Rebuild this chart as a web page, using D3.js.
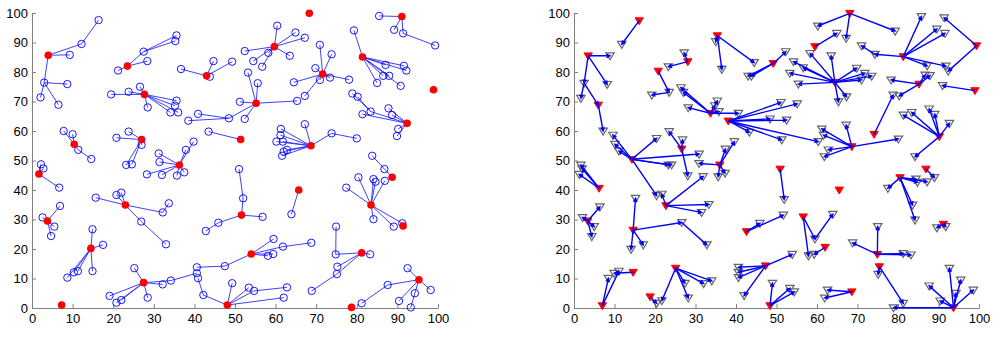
<!DOCTYPE html>
<html>
<head>
<meta charset="utf-8">
<script src="https://cdn.jsdelivr.net/npm/d3@7"></script>
<style>
  body { margin: 0; background: #fff; }
  svg { display: block; }
  .tick text { font-family: Helvetica, Arial, "Liberation Sans", sans-serif; font-size: 13px; fill: #000; }
</style>
</head>
<body>
<svg id="chart" width="1000" height="338"></svg>
<script>
// ticks for both panels
let ticksX = d3.range(0, 101, 10);
let ticksY = d3.range(0, 101, 10);

// left panel: each entry is a center [x, y, children], children are [x, y, children]
let leftTrees = [
  [4.0, 85.7, [[12.2, 89.5, [[16.4, 97.6]]], [9.3, 85.8], [3.0, 76.4, [[8.7, 75.9], [2.1, 71.4], [6.5, 68.9]]]]],
  [23.5, 82.0, [[21.2, 80.5], [28.4, 83.7], [27.5, 86.9, [[35.3, 90.5], [35.6, 92.4]]]]],
  [27.7, 72.4, [[19.5, 72.4], [23.8, 73.3], [26.6, 75.0], [28.5, 68.0], [35.6, 70.3], [35.2, 68.6], [34.1, 66.3], [36.0, 66.3]]],
  [10.4, 55.5, [[7.8, 60.0], [10.0, 58.9], [11.4, 53.6, [[14.6, 50.5]]]]],
  [27.0, 57.1, [[20.8, 57.7], [23.8, 59.8], [27.0, 55.3], [23.2, 48.5], [24.6, 48.7]]],
  [36.3, 48.5, [[31.2, 52.4], [31.4, 49.5], [28.3, 45.3], [32.0, 45.1], [35.7, 44.9], [37.5, 46.0], [37.9, 53.6], [39.8, 56.4]]],
  [68.3, 99.9, []],
  [59.7, 88.6, [[60.4, 95.7], [64.9, 93.4], [67.2, 91.6], [52.4, 87.1], [54.5, 83.7], [58.2, 86.5], [56.7, 81.8], [63.5, 85.5]]],
  [43.0, 78.7, [[36.7, 81.0], [44.7, 83.7], [49.3, 83.5], [43.8, 78.4]]],
  [71.6, 79.3, [[70.9, 89.2], [73.8, 86.0], [69.8, 81.3], [70.9, 77.3], [73.4, 78.1], [78.1, 77.4], [64.5, 76.5], [67.2, 71.9]]],
  [55.2, 69.4, [[53.2, 79.8], [55.6, 76.2], [51.2, 69.9], [52.4, 64.1], [65.3, 70.2], [48.5, 64.3, [[40.9, 65.8], [38.5, 63.5]]]]],
  [51.4, 57.1, [[43.5, 59.8]]],
  [68.7, 55.0, [[67.2, 62.3], [73.8, 59.2, [[80.0, 57.5]]], [61.3, 60.7], [61.2, 58.6], [60.2, 56.4], [61.8, 56.4], [62.8, 53.6], [62.0, 53.0], [61.6, 51.6]]],
  [91.1, 98.8, [[85.5, 99.0], [89.2, 94.3], [91.4, 93.1, [[99.3, 89.0]]]]],
  [81.4, 85.1, [[79.3, 94.1], [87.1, 82.4], [91.6, 82.1], [92.2, 80.5], [86.5, 78.7], [88.0, 78.7], [85.0, 76.3], [90.8, 75.3]]],
  [98.9, 74.0, []],
  [92.4, 62.6, [[83.4, 66.6, [[78.9, 72.7], [80.2, 71.6]]], [81.4, 65.7], [87.8, 67.7], [88.7, 65.4], [90.2, 60.7], [89.9, 58.3]]],
  [88.7, 44.3, [[86.8, 47.1, [[83.8, 51.6]]]]],
  [83.5, 34.9, [[77.4, 40.8], [80.4, 44.3], [84.1, 43.7], [84.6, 42.8], [86.9, 43.1], [84.1, 30.1], [89.1, 27.6], [91.2, 28.7]]],
  [91.4, 27.8, []],
  [81.2, 18.7, [[74.8, 18.2, [[74.9, 27.6]]], [83.3, 18.2], [75.2, 14.0], [75.1, 11.5, [[68.9, 5.8]]]]],
  [95.3, 9.6, [[92.5, 13.5], [98.2, 6.1], [94.3, 5.0, [[93.3, 0.2]]], [90.4, 2.4], [87.6, 7.8, [[81.2, 1.6]]]]],
  [78.7, 0.2, []],
  [65.7, 40.0, [[63.9, 31.8]]],
  [51.6, 31.5, [[52.0, 37.2, [[51.0, 47.1]]], [56.8, 30.9], [45.9, 28.9, [[42.8, 26.1]]]]],
  [54.0, 18.3, [[59.5, 23.4], [61.8, 20.8, [[68.8, 22.1]]], [58.1, 17.7], [59.4, 18.3], [47.5, 14.2, [[40.6, 13.8]]]]],
  [48.1, 1.0, [[49.3, 8.4], [53.4, 6.9], [54.7, 5.8, [[62.8, 7.0]]], [62.0, 3.5], [42.2, 4.4, [[40.9, 10.1]]]]],
  [1.7, 45.4, [[2.2, 48.7], [2.8, 47.3], [6.7, 40.8]]],
  [3.8, 29.5, [[2.6, 30.7], [6.9, 34.6], [5.5, 27.6], [4.7, 24.4]]],
  [14.5, 20.2, [[14.9, 26.7], [17.5, 21.4], [14.9, 12.5], [11.3, 12.5], [10.3, 12.1], [8.7, 10.3]]],
  [23.0, 34.9, [[15.7, 37.4], [20.8, 38.3], [22.0, 39.1], [32.2, 32.4, [[33.7, 35.5]]], [26.9, 29.3, [[33.0, 21.6]]]]],
  [7.3, 1.0, []],
  [27.5, 8.6, [[25.2, 13.5], [28.5, 3.5], [19.1, 4.1], [20.8, 1.8], [22.0, 2.7], [32.2, 8.0], [34.2, 9.3, [[40.6, 11.8]]]]]
];

// right panel: red markers and arrows [fromX, fromY, toX, toY]
let rightRed = [
  [16.1, 97.4], [3.5, 85.5], [6.0, 68.8], [20.8, 80.3], [28.1, 83.5], [33.7, 66.0], [38.1, 63.4],
  [14.3, 50.4], [26.6, 53.9], [6.2, 40.6], [3.4, 29.5], [22.7, 34.7], [14.6, 26.4], [14.6, 12.1],
  [7.0, 0.8], [18.8, 3.8], [25.1, 13.5], [36.0, 48.5], [50.9, 47.1], [65.5, 40.0], [42.6, 25.9],
  [56.6, 30.9], [62.0, 20.6], [47.3, 14.3], [48.4, 0.8], [68.6, 5.5], [35.4, 92.3], [49.2, 82.9],
  [59.5, 88.6], [68.1, 99.9], [64.4, 76.5], [68.6, 54.7], [81.3, 85.2], [99.4, 88.9], [85.2, 75.9],
  [99.0, 73.7], [90.2, 58.1], [74.1, 58.9], [86.9, 47.1], [80.5, 44.2], [91.2, 28.4], [74.9, 18.2],
  [75.4, 14.0], [93.7, 0.1]
];

let rightArrows = [
  [16.1, 97.4, 11.8, 89.4],
  [3.5, 85.5, 8.9, 85.5], [3.5, 85.5, 2.5, 76.2], [3.5, 85.5, 8.2, 75.8],
  [2.5, 76.2, 1.7, 71.1], [2.5, 76.2, 6.0, 68.8], [6.0, 68.8, 7.2, 60.0],
  [20.8, 80.3, 23.5, 73.1], [23.5, 73.1, 19.2, 72.2],
  [28.1, 83.5, 23.3, 81.8], [28.1, 83.5, 27.2, 86.5],
  [33.7, 66.0, 26.4, 74.7], [33.7, 66.0, 27.0, 73.1], [33.7, 66.0, 28.2, 67.9],
  [33.7, 66.0, 35.4, 70.2], [33.7, 66.0, 34.8, 68.6], [33.7, 66.0, 35.8, 66.6], [33.7, 66.0, 40.6, 66.0],
  [14.3, 50.4, 9.6, 58.6], [14.3, 50.4, 10.1, 55.5], [14.3, 50.4, 11.1, 53.2], [14.3, 50.4, 20.4, 57.5],
  [14.3, 50.4, 30.9, 52.2], [14.3, 50.4, 23.3, 48.5], [14.3, 50.4, 24.1, 48.5], [14.3, 50.4, 20.4, 38.1],
  [26.6, 53.9, 23.5, 59.8], [26.6, 53.9, 26.8, 57.0], [26.6, 53.9, 28.1, 44.8],
  [22.7, 34.7, 21.7, 38.6], [22.7, 34.7, 31.9, 44.6], [22.7, 34.7, 31.5, 32.4], [22.7, 34.7, 33.3, 35.1],
  [6.2, 40.6, 1.7, 48.5], [6.2, 40.6, 2.0, 47.2], [6.2, 40.6, 1.3, 45.3],
  [3.4, 29.5, 2.1, 30.7], [3.4, 29.5, 6.4, 34.3], [3.4, 29.5, 5.0, 27.6], [3.4, 29.5, 4.4, 24.2],
  [14.6, 26.4, 15.2, 37.2], [14.6, 26.4, 14.1, 19.9], [14.6, 26.4, 17.1, 21.4], [14.6, 26.4, 26.6, 29.0],
  [26.6, 29.0, 32.8, 21.4],
  [14.6, 12.1, 9.9, 11.8], [7.0, 0.8, 11.1, 12.5], [7.0, 0.8, 8.5, 10.1],
  [18.8, 3.8, 20.4, 1.6],
  [25.1, 13.5, 21.7, 2.5], [25.1, 13.5, 27.4, 8.4], [25.1, 13.5, 28.2, 3.4], [25.1, 13.5, 32.0, 8.3], [25.1, 13.5, 34.0, 9.2],
  [36.0, 48.5, 39.6, 56.4], [36.0, 48.5, 37.4, 53.9], [36.0, 48.5, 30.9, 49.0], [36.0, 48.5, 35.6, 44.5], [36.0, 48.5, 37.3, 45.7],
  [50.9, 47.1, 51.9, 36.8],
  [42.6, 25.9, 45.9, 28.7], [42.6, 25.9, 51.7, 31.5],
  [56.6, 30.9, 59.5, 23.4], [59.5, 23.4, 63.9, 31.8], [56.6, 30.9, 57.9, 17.7], [62.0, 20.6, 59.3, 18.2],
  [47.3, 14.3, 53.9, 18.2], [47.3, 14.3, 40.6, 13.8], [47.3, 14.3, 40.6, 12.1], [47.3, 14.3, 40.6, 10.3], [47.3, 14.3, 42.0, 4.2],
  [48.4, 0.8, 49.0, 8.4], [48.4, 0.8, 53.3, 6.7], [48.4, 0.8, 54.4, 5.5],
  [68.6, 5.5, 62.6, 6.1], [68.6, 5.5, 61.9, 3.4],
  [35.4, 92.3, 36.5, 80.9], [35.4, 92.3, 44.5, 83.2], [35.4, 92.3, 35.0, 90.3],
  [49.2, 82.9, 52.3, 86.9], [49.2, 82.9, 43.0, 78.6], [49.2, 82.9, 43.8, 78.6],
  [59.5, 88.6, 64.9, 93.1],
  [68.1, 99.9, 60.2, 95.6], [68.1, 99.9, 67.2, 91.4], [68.1, 99.9, 79.3, 93.9],
  [64.4, 76.5, 58.3, 86.3], [64.4, 76.5, 63.5, 85.5], [64.4, 76.5, 54.2, 83.5], [64.4, 76.5, 56.6, 81.4],
  [64.4, 76.5, 53.3, 79.6], [64.4, 76.5, 55.4, 75.9], [64.4, 76.5, 65.3, 69.9], [64.4, 76.5, 67.3, 71.6],
  [64.4, 76.5, 69.8, 81.3], [64.4, 76.5, 71.8, 79.6], [64.4, 76.5, 73.5, 78.6], [64.4, 76.5, 71.0, 77.3],
  [38.1, 63.4, 51.1, 69.7], [38.1, 63.4, 55.1, 69.2], [38.1, 63.4, 48.4, 64.1], [38.1, 63.4, 52.5, 63.7],
  [38.1, 63.4, 43.3, 59.6], [38.1, 63.4, 51.3, 57.0], [38.1, 63.4, 60.3, 56.4],
  [68.6, 54.7, 67.2, 62.0], [68.6, 54.7, 61.2, 60.7], [68.6, 54.7, 61.6, 58.6], [68.6, 54.7, 62.8, 53.6],
  [68.6, 54.7, 61.8, 51.3], [68.6, 54.7, 80.1, 57.3],
  [81.3, 85.2, 85.8, 98.8], [81.3, 85.2, 89.6, 94.6], [81.3, 85.2, 91.6, 93.1], [81.3, 85.2, 74.3, 86.0],
  [74.3, 86.0, 71.0, 88.9], [81.3, 85.2, 87.2, 82.1], [81.3, 85.2, 91.8, 82.0],
  [99.4, 88.9, 91.4, 98.4], [99.4, 88.9, 92.4, 80.3],
  [85.2, 75.9, 78.3, 77.3], [85.2, 75.9, 86.7, 79.0], [85.2, 75.9, 87.9, 78.8], [85.2, 75.9, 80.3, 71.9],
  [74.1, 58.9, 78.8, 72.2],
  [99.0, 73.7, 91.0, 75.4],
  [90.2, 58.1, 81.3, 65.4], [90.2, 58.1, 83.4, 66.3], [90.2, 58.1, 87.7, 67.5], [90.2, 58.1, 89.1, 65.7],
  [90.2, 58.1, 92.7, 62.6], [90.2, 58.1, 84.2, 51.3],
  [86.9, 47.1, 89.0, 44.2],
  [80.5, 44.2, 77.5, 40.6], [80.5, 44.2, 84.4, 43.7], [80.5, 44.2, 84.8, 42.6], [80.5, 44.2, 87.2, 42.8],
  [80.5, 44.2, 83.6, 34.9], [80.5, 44.2, 84.2, 29.8],
  [91.2, 28.4, 89.6, 27.2], [91.2, 28.4, 91.8, 27.6],
  [74.9, 18.2, 75.0, 27.6], [74.9, 18.2, 68.8, 22.1], [74.9, 18.2, 81.3, 18.5], [74.9, 18.2, 83.2, 18.0],
  [75.4, 14.0, 75.1, 11.4], [75.4, 14.0, 81.3, 1.6],
  [93.7, 0.1, 78.9, 0.1], [93.7, 0.1, 87.7, 7.5], [93.7, 0.1, 90.4, 2.4], [93.7, 0.1, 92.7, 13.5],
  [93.7, 0.1, 95.5, 9.5], [93.7, 0.1, 94.3, 5.0], [93.7, 0.1, 98.6, 6.1]
];

let svg = d3.select("#chart");

// flatten the left trees into links and points
let leftLinks = [], leftPoints = [];
function walk(node) {
  (node[2] || []).forEach(function (c) {
    leftLinks.push([node[0], node[1], c[0], c[1]]);
    leftPoints.push([c[0], c[1]]);
    walk(c);
  });
}
leftTrees.forEach(walk);

// gray markers of the right panel are the arrow ends that are not red
let redKey = new Set(rightRed.map(function (d) { return d[0] + "," + d[1]; }));
let grayKey = new Set();
rightArrows.forEach(function (a) {
  [[a[0], a[1]], [a[2], a[3]]].forEach(function (p) {
    let k = p[0] + "," + p[1];
    if (!redKey.has(k)) grayKey.add(k);
  });
});
let rightGray = Array.from(grayKey).map(function (k) { return k.split(",").map(Number); });

function drawAxes(x, y) {
  let gx = svg.append("g")
    .attr("transform", "translate(0," + y(0) + ")")
    .call(d3.axisBottom(x).tickValues(ticksX).tickSizeInner(-4).tickSizeOuter(0).tickPadding(6));
  let gy = svg.append("g")
    .attr("transform", "translate(" + x(0) + ",0)")
    .call(d3.axisLeft(y).tickValues(ticksY).tickSizeInner(-4).tickSizeOuter(0).tickPadding(4));
  [gx, gy].forEach(function (g) {
    g.select(".domain").attr("stroke", "#808080");
    g.selectAll(".tick line").attr("stroke", "#808080");
  });
}

// left panel
let xL = d3.scaleLinear().domain([0, 100]).range([32, 438]);
let yL = d3.scaleLinear().domain([0, 100]).range([308, 13]);
drawAxes(xL, yL);

svg.append("g").selectAll("line")
  .data(leftLinks)
  .join("line")
  .attr("x1", function (d) { return xL(d[0]); })
  .attr("y1", function (d) { return yL(d[1]); })
  .attr("x2", function (d) { return xL(d[2]); })
  .attr("y2", function (d) { return yL(d[3]); })
  .attr("stroke", "#2a2aff")
  .attr("stroke-width", 0.9);

svg.append("g").selectAll("circle")
  .data(leftPoints)
  .join("circle")
  .attr("cx", function (d) { return xL(d[0]); })
  .attr("cy", function (d) { return yL(d[1]); })
  .attr("r", 3.7)
  .attr("fill", "none")
  .attr("stroke", "#0000ff")
  .attr("stroke-width", 0.9);

svg.append("g").selectAll("circle")
  .data(leftTrees)
  .join("circle")
  .attr("cx", function (d) { return xL(d[0]); })
  .attr("cy", function (d) { return yL(d[1]); })
  .attr("r", 3.8)
  .attr("fill", "#ff0000");

// right panel
let xR = d3.scaleLinear().domain([0, 100]).range([574, 979]);
let yR = d3.scaleLinear().domain([0, 100]).range([308, 13]);
drawAxes(xR, yR);

function tri(d) {
  let cx = xR(d[0]), cy = yR(d[1]);
  return "M" + (cx - 4.2) + "," + (cy - 2.9) + "L" + (cx + 4.2) + "," + (cy - 2.9) + "L" + cx + "," + (cy + 4.0) + "Z";
}

svg.append("g").selectAll("path")
  .data(rightGray)
  .join("path")
  .attr("d", tri)
  .attr("fill", "none")
  .attr("stroke", "#666")
  .attr("stroke-width", 1.2);

svg.append("g").selectAll("path")
  .data(rightRed)
  .join("path")
  .attr("d", tri)
  .attr("fill", "#ff0000")
  .attr("stroke", "#ff0000")
  .attr("stroke-width", 1);

function arrowPath(a) {
  let x1 = xR(a[0]), y1 = yR(a[1]), x2 = xR(a[2]), y2 = yR(a[3]);
  let ang = Math.atan2(y2 - y1, x2 - x1), h = 4, w = 0.45;
  let p = "M" + x1 + "," + y1 + "L" + x2 + "," + y2;
  p += "M" + (x2 - h * Math.cos(ang - w)) + "," + (y2 - h * Math.sin(ang - w)) + "L" + x2 + "," + y2;
  p += "L" + (x2 - h * Math.cos(ang + w)) + "," + (y2 - h * Math.sin(ang + w));
  return p;
}

svg.append("g").selectAll("path")
  .data(rightArrows)
  .join("path")
  .attr("d", arrowPath)
  .attr("fill", "none")
  .attr("stroke", "#0000ff")
  .attr("stroke-width", 1.4);
</script>
</body>
</html>
